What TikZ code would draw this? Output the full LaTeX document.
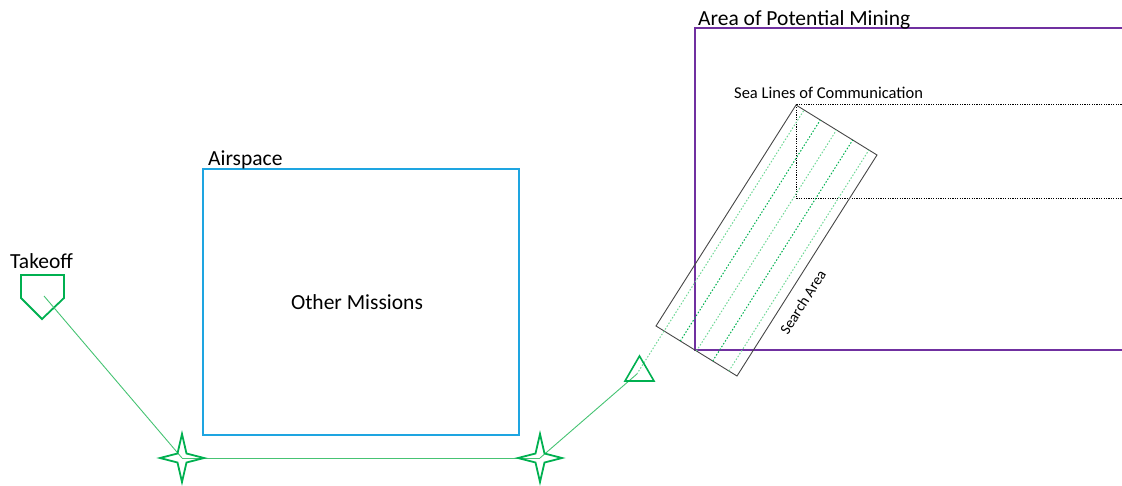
\documentclass[tikz,border=0pt]{standalone}
\usepackage{fontspec}
\setmainfont{Carlito}
\usetikzlibrary{calc}
\definecolor{grn}{RGB}{0,176,80}
\definecolor{lgrn}{RGB}{110,215,150}
\definecolor{linegrn}{RGB}{70,195,115}
\definecolor{cyanb}{RGB}{30,165,225}
\definecolor{purp}{RGB}{112,48,160}
\definecolor{dgray}{RGB}{70,70,70}
\begin{document}
\begin{tikzpicture}[x=1pt,y=-1pt,
  shapeline/.style={draw=grn, line width=1.8pt, line join=miter},
  route/.style={draw=linegrn, line width=0.9pt},
  lane/.style={line width=1pt, dash pattern=on 1.5pt off 1.8pt},
  big/.style={font=\fontsize{21.5}{24}\selectfont, inner sep=0pt},
  star4/.pic={\path[shapeline] (0,-24) -- (4.5,-4.5) -- (22,0) -- (4.5,4.5) -- (0,24) -- (-4.5,4.5) -- (-22,0) -- (-4.5,-4.5) -- cycle;}
]
\useasboundingbox (0,0) rectangle (1122,485);

% Airspace
\draw[cyanb, line width=1.8pt] (203,169) rectangle (519,435);
\node[big, anchor=base west] (airlbl) at (208,165) {Airspace};
\node[big, anchor=base] (other) at (357,309) {Other Missions};

% Area of potential mining
\draw[purp, line width=1.8pt] (1124,28) -- (695,28) -- (695,350) -- (1124,350);
\node[big, anchor=base west] (mininglbl) at (698,25) {Area of Potential Mining};

% Sea lines of communication
\draw[black, line width=0.8pt, dash pattern=on 1.2pt off 1.2pt] (1124,104) -- (796,104) -- (796,198) -- (1124,198);
\node[font=\fontsize{16.5}{19}\selectfont, inner sep=0pt, anchor=base west] (slc) at (734,98) {Sea Lines of Communication};

% Search area rectangle
\coordinate (A) at (796,105);
\coordinate (B) at (877,155);
\coordinate (C) at (737,376);
\coordinate (D) at (656,326);
\draw[dgray, line width=0.9pt] (A) -- (B) -- (C) -- (D) -- cycle;
\node[font=\fontsize{15}{17}\selectfont, inner sep=0pt, rotate=57.6] (salbl) at (803,302) {Search Area};

% lanes
\coordinate (T1) at ($(A)!0.1!(B)$);
\coordinate (B1) at ($(D)!0.1!(C)$);
\coordinate (tri) at ($(T1)!1.195!(B1)$);
\draw[lane, lgrn] (tri) -- (T1);
\draw[lane, grn] ($(D)!0.3!(C)$) -- ($(A)!0.3!(B)$);
\draw[lane, lgrn] ($(D)!0.5!(C)$) -- ($(A)!0.5!(B)$);
\draw[lane, grn] ($(D)!0.7!(C)$) -- ($(A)!0.7!(B)$);
\draw[lane, lgrn] ($(D)!0.9!(C)$) -- ($(A)!0.9!(B)$);

% Takeoff
\coordinate (tk) at (44,296);
\path[shapeline] (21,275) -- (64,275) -- (64,298) -- (42,319) -- (21,298) -- cycle;
\node[big, anchor=base west] (tklbl) at (10,268) {Takeoff};

% waypoints
\coordinate (s1) at (182,458);
\coordinate (s2) at (540,458);
\draw[route] (tk) -- (s1);
\draw[route] (s1) -- (s2);
\draw[route] (s2) -- (tri);
\pic at (s1) {star4};
\pic at (s2) {star4};

% triangle
\path[shapeline, line width=1.6pt] (625,381) -- (654,381) -- (639.5,356) -- cycle;
\end{tikzpicture}
\end{document}
